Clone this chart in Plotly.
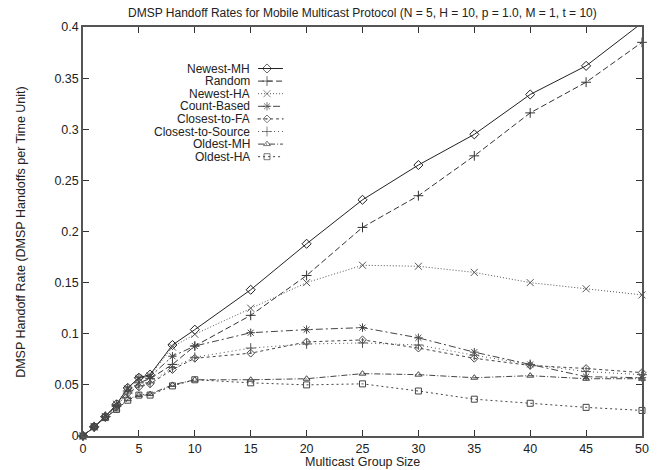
import plotly.graph_objects as go

# ---------------- data ----------------
group_size = [0, 1, 2, 3, 4, 5, 6, 8, 10, 15, 20, 25, 30, 35, 40, 45, 50]

newest_mh = [0, 0.009, 0.019, 0.031, 0.047, 0.057, 0.060, 0.089, 0.104, 0.143, 0.188, 0.231, 0.265, 0.295, 0.334, 0.362, 0.404]
random_ = [0, 0.009, 0.019, 0.030, 0.044, 0.052, 0.056, 0.070, 0.088, 0.118, 0.157, 0.204, 0.235, 0.274, 0.316, 0.346, 0.385]
newest_ha = [0, 0.009, 0.019, 0.031, 0.046, 0.056, 0.059, 0.087, 0.0995, 0.125, 0.150, 0.167, 0.166, 0.160, 0.150, 0.144, 0.138]
count_based = [0, 0.009, 0.019, 0.031, 0.047, 0.057, 0.058, 0.078, 0.088, 0.101, 0.104, 0.106, 0.096, 0.082, 0.070, 0.058, 0.057]
closest_fa = [0, 0.009, 0.019, 0.029, 0.042, 0.048, 0.051, 0.065, 0.076, 0.081, 0.092, 0.094, 0.086, 0.076, 0.069, 0.066, 0.062]
closest_src = [0, 0.009, 0.019, 0.029, 0.042, 0.049, 0.052, 0.067, 0.077, 0.086, 0.090, 0.091, 0.089, 0.079, 0.070, 0.063, 0.060]
oldest_mh = [0, 0.009, 0.018, 0.026, 0.036, 0.040, 0.041, 0.050, 0.055, 0.055, 0.056, 0.061, 0.060, 0.057, 0.059, 0.056, 0.056]
oldest_ha = [0, 0.009, 0.018, 0.026, 0.035, 0.040, 0.040, 0.049, 0.055, 0.052, 0.050, 0.051, 0.044, 0.036, 0.032, 0.028, 0.025]

series_names = ["Newest-MH", "Random", "Newest-HA", "Count-Based",
                "Closest-to-FA", "Closest-to-Source", "Oldest-MH", "Oldest-HA"]
series_values = [newest_mh, random_, newest_ha, count_based,
                 closest_fa, closest_src, oldest_mh, oldest_ha]

x_ticks = [0, 5, 10, 15, 20, 25, 30, 35, 40, 45, 50]
y_ticks = [0, 0.05, 0.1, 0.15, 0.2, 0.25, 0.3, 0.35, 0.4]
y_ticktext = ["0", "0.05", "0.1", "0.15", "0.2", "0.25", "0.3", "0.35", "0.4"]

title_text = "DMSP Handoff Rates for Mobile Multicast Protocol (N = 5, H = 10, p = 1.0, M = 1, t = 10)"
x_title = "Multicast Group Size"
y_title = "DMSP Handoff Rate (DMSP Handoffs per Time Unit)"

# ---------------- styles ----------------
styles = [
    dict(dash="solid", symbol="diamond-open", size=7, color="#222222"),
    dict(dash="6px,3px", symbol="cross-thin-open", size=7, color="#333333"),
    dict(dash="1px,2px", symbol="x-thin-open", size=7, color="#555555"),
    dict(dash="7px,3px,2px,3px", symbol="asterisk-open", size=7, color="#444444"),
    dict(dash="3px,3px", symbol="diamond-open-dot", size=6, color="#444444"),
    dict(dash="1px,3px", symbol="cross-thin-open", size=7, color="#555555"),
    dict(dash="6px,2px,1px,2px", symbol="triangle-up-open", size=6, color="#444444"),
    dict(dash="2px,3px", symbol="square-open", size=6, color="#444444"),
]

FONT = "Liberation Sans, Arial, Helvetica, sans-serif"
TXT = "#222222"

fig = go.Figure()

for name, vals, st in zip(series_names, series_values, styles):
    fig.add_trace(go.Scatter(
        x=group_size, y=vals, name=name, mode="lines+markers",
        line=dict(color=st["color"], width=1, dash=st["dash"]),
        marker=dict(symbol=st["symbol"], size=st["size"],
                    color=st["color"], line=dict(width=1, color=st["color"])),
        cliponaxis=(name == "Newest-MH"),
        showlegend=False,
    ))

# ---- custom gnuplot-style legend (text left, sample right), pixel overlay axes ----
L, R, T, B = 83, 645, 27, 436
leg_text_x = 252
leg_x0, leg_xm, leg_x1 = 259, 268, 284
leg_y0, leg_dy = 68.5, 12.6


def px_to_paper(px, py):
    return (px - L) / (R - L), (B - py) / (B - T)


annotations = []
for i, (name, st) in enumerate(zip(series_names, styles)):
    yy = leg_y0 + leg_dy * i
    fig.add_trace(go.Scatter(
        x=[leg_x0, leg_xm, leg_x1], y=[yy, yy, yy], mode="lines+markers",
        xaxis="x2", yaxis="y2", showlegend=False, hoverinfo="skip",
        line=dict(color=st["color"], width=1, dash=st["dash"]),
        marker=dict(symbol=st["symbol"], size=[0, st["size"], 0],
                    color=st["color"], line=dict(width=1, color=st["color"])),
        cliponaxis=False,
    ))
    annotations.append(dict(
        x=leg_text_x, y=yy, xref="x2", yref="y2", text=name, showarrow=False,
        xanchor="right", yanchor="middle", height=12, borderpad=0,
        font=dict(family=FONT, size=12, color=TXT)))

tx, ty = px_to_paper((L + R) / 2, 13)
annotations.append(dict(x=tx, y=ty, xref="paper", yref="paper", text=title_text,
                        showarrow=False, xanchor="center", yanchor="middle",
                        font=dict(family=FONT, size=12, color=TXT)))
tx, ty = px_to_paper((L + R) / 2, 462)
annotations.append(dict(x=tx, y=ty, xref="paper", yref="paper", text=x_title,
                        showarrow=False, xanchor="center", yanchor="middle",
                        font=dict(family=FONT, size=12.5, color=TXT)))
tx, ty = px_to_paper(20, (T + B) / 2)
annotations.append(dict(x=tx, y=ty, xref="paper", yref="paper", text=y_title,
                        showarrow=False, xanchor="center", yanchor="middle", textangle=-90,
                        font=dict(family=FONT, size=12.5, color=TXT)))

axis_common = dict(
    showgrid=False, zeroline=False, showline=True, linecolor="#555555", linewidth=1.5,
    mirror="allticks", ticks="inside", ticklen=6, tickwidth=1, tickcolor="#333333",
    tickfont=dict(family=FONT, size=12.5, color=TXT),
)

fig.update_layout(
    width=661, height=470,
    margin=dict(l=L, r=661 - R, t=T, b=470 - B),
    plot_bgcolor="white", paper_bgcolor="white",
    xaxis=dict(range=[0, 50], tickvals=x_ticks, ticktext=[str(v) for v in x_ticks], **axis_common),
    yaxis=dict(range=[0, 0.4], tickvals=y_ticks, ticktext=y_ticktext, **axis_common),
    xaxis2=dict(range=[L, R], overlaying="x", visible=False, fixedrange=True),
    yaxis2=dict(range=[B, T], overlaying="y", visible=False, fixedrange=True),
    annotations=annotations,
    showlegend=False,
)

fig.write_html("out.html", config={"displayModeBar": False},
               post_script="document.body.style.margin='0';")
